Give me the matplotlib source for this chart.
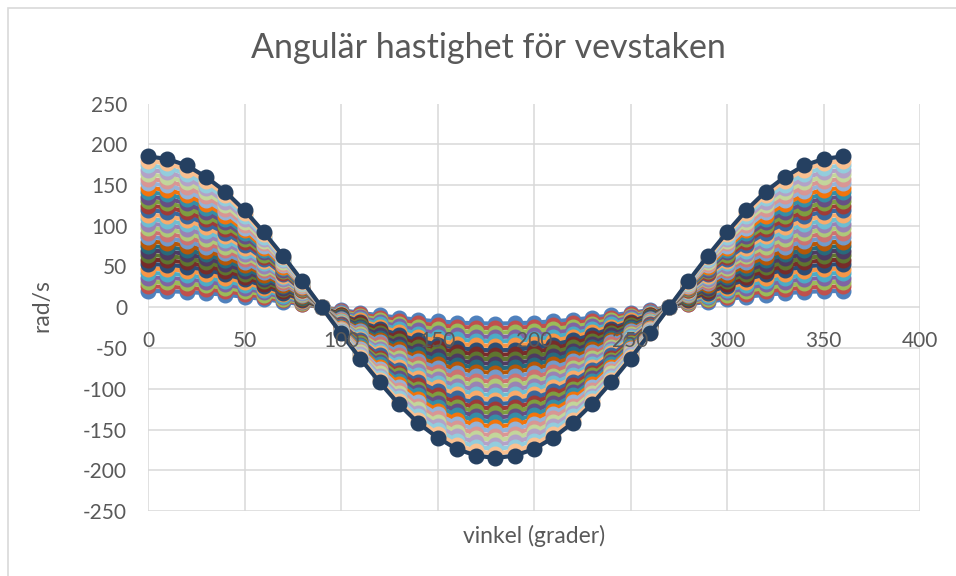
import colorsys
import matplotlib
matplotlib.use("Agg")
import matplotlib.pyplot as plt
from matplotlib.colors import to_rgb
from matplotlib.patches import Rectangle

plt.rcParams["axes.unicode_minus"] = False

# Crank angle in degrees
angles = [0, 10, 20, 30, 40, 50, 60, 70, 80, 90, 100, 110, 120, 130, 140, 150, 160, 170, 180,
          190, 200, 210, 220, 230, 240, 250, 260, 270, 280, 290, 300, 310, 320, 330, 340, 350, 360]

# Outermost curve (rad/s) at each angle
outer_curve = [185, 182, 174, 160, 142, 119, 92, 63, 32, 0, -32, -63, -92, -119, -142, -160, -174, -182, -185,
               -182, -174, -160, -142, -119, -92, -63, -32, 0, 32, 63, 92, 119, 142, 160, 174, 182, 185]

# Peak angular velocity (rad/s, at 0 degrees) of each series
peaks = [20, 25.5, 31, 36.5, 42, 47.5, 53, 58.5, 64, 69.5, 75, 80.5, 86, 91.5, 97, 102.5,
         108, 113.5, 119, 124.5, 130, 135.5, 141, 146.5, 152, 157.5, 163, 168.5, 174, 179.5, 185]

x_ticks = [0, 50, 100, 150, 200, 250, 300, 350, 400]
y_ticks = [-250, -200, -150, -100, -50, 0, 50, 100, 150, 200, 250]

title = "Angulär hastighet för vevstaken"
x_title = "vinkel (grader)"
y_title = "rad/s"

# Office theme accents and the luminance variations used for series beyond six
ACCENTS = ["#4F81BD", "#C0504D", "#9BBB59", "#8064A2", "#4BACC6", "#F79646"]
VARIATIONS = [(1.0, 0.0), (0.6, 0.0), (0.8, 0.2), (0.8, 0.0), (0.6, 0.4), (0.5, 0.0),
              (0.7, 0.3), (0.7, 0.0), (0.5, 0.5)]


def theme_color(hex_color, lum_mod, lum_off):
    r, g, b = to_rgb(hex_color)
    h, l, s = colorsys.rgb_to_hls(r, g, b)
    l = min(1.0, max(0.0, l * lum_mod + lum_off))
    return colorsys.hls_to_rgb(h, l, s)


def series_color(i):
    mod, off = VARIATIONS[i // 6]
    return theme_color(ACCENTS[i % 6], mod, off)


FONT = "Lato"
TEXT_COLOR = "#595959"
GRID_COLOR = "#D9D9D9"

W, H = 956, 576
fig = plt.figure(figsize=(W / 100, H / 100), dpi=100)
fig.patch.set_facecolor("white")

# Chart-area border
fig.patches.append(Rectangle((7.5 / W, -0.1), 1.2, 1 - 7.5 / H + 0.1, transform=fig.transFigure,
                             fill=False, edgecolor=GRID_COLOR, linewidth=1.2))

left, right = 148 / W, 920 / W
top, bottom = 1 - 103.5 / H, 1 - 511 / H
ax = fig.add_axes([left, bottom, right - left, top - bottom])
ax.set_xlim(0, 400)
ax.set_ylim(-250, 250)
ax.set_xticks(x_ticks)
ax.set_yticks(y_ticks)

for t in ax.get_xticks():
    ax.axvline(t, color=GRID_COLOR, lw=1.1, zorder=0)
for t in ax.get_yticks():
    ax.axhline(t, color=GRID_COLOR, lw=1.1, zorder=0)

for i, peak in enumerate(peaks):
    values = [v * peak / outer_curve[0] for v in outer_curve]
    c = series_color(i)
    ax.plot(angles, values, color=c, lw=3.0, marker="o", ms=10.5, mfc=c, mec=c,
            zorder=2, clip_on=False)

for s in ax.spines.values():
    s.set_visible(False)
ax.spines["bottom"].set_position(("data", 0))
ax.set_axisbelow(False)
ax.tick_params(axis="both", length=0, labelcolor=TEXT_COLOR, labelsize=15)
ax.tick_params(axis="x", pad=17)
ax.tick_params(axis="y", pad=15)
for lab in ax.get_xticklabels() + ax.get_yticklabels():
    lab.set_fontfamily(FONT)

fig.text(488 / W, 1 - 48 / H, title, ha="center", va="center", fontsize=24.5,
         color=TEXT_COLOR, fontfamily=FONT)
fig.text(534 / W, 1 - 536 / H, x_title, ha="center", va="center", fontsize=16.5,
         color=TEXT_COLOR, fontfamily=FONT)
fig.text(42 / W, 1 - 306 / H, y_title, ha="center", va="center", rotation=90, fontsize=16.5,
         color=TEXT_COLOR, fontfamily=FONT)

fig.savefig("out.png", dpi=100, facecolor="white")
